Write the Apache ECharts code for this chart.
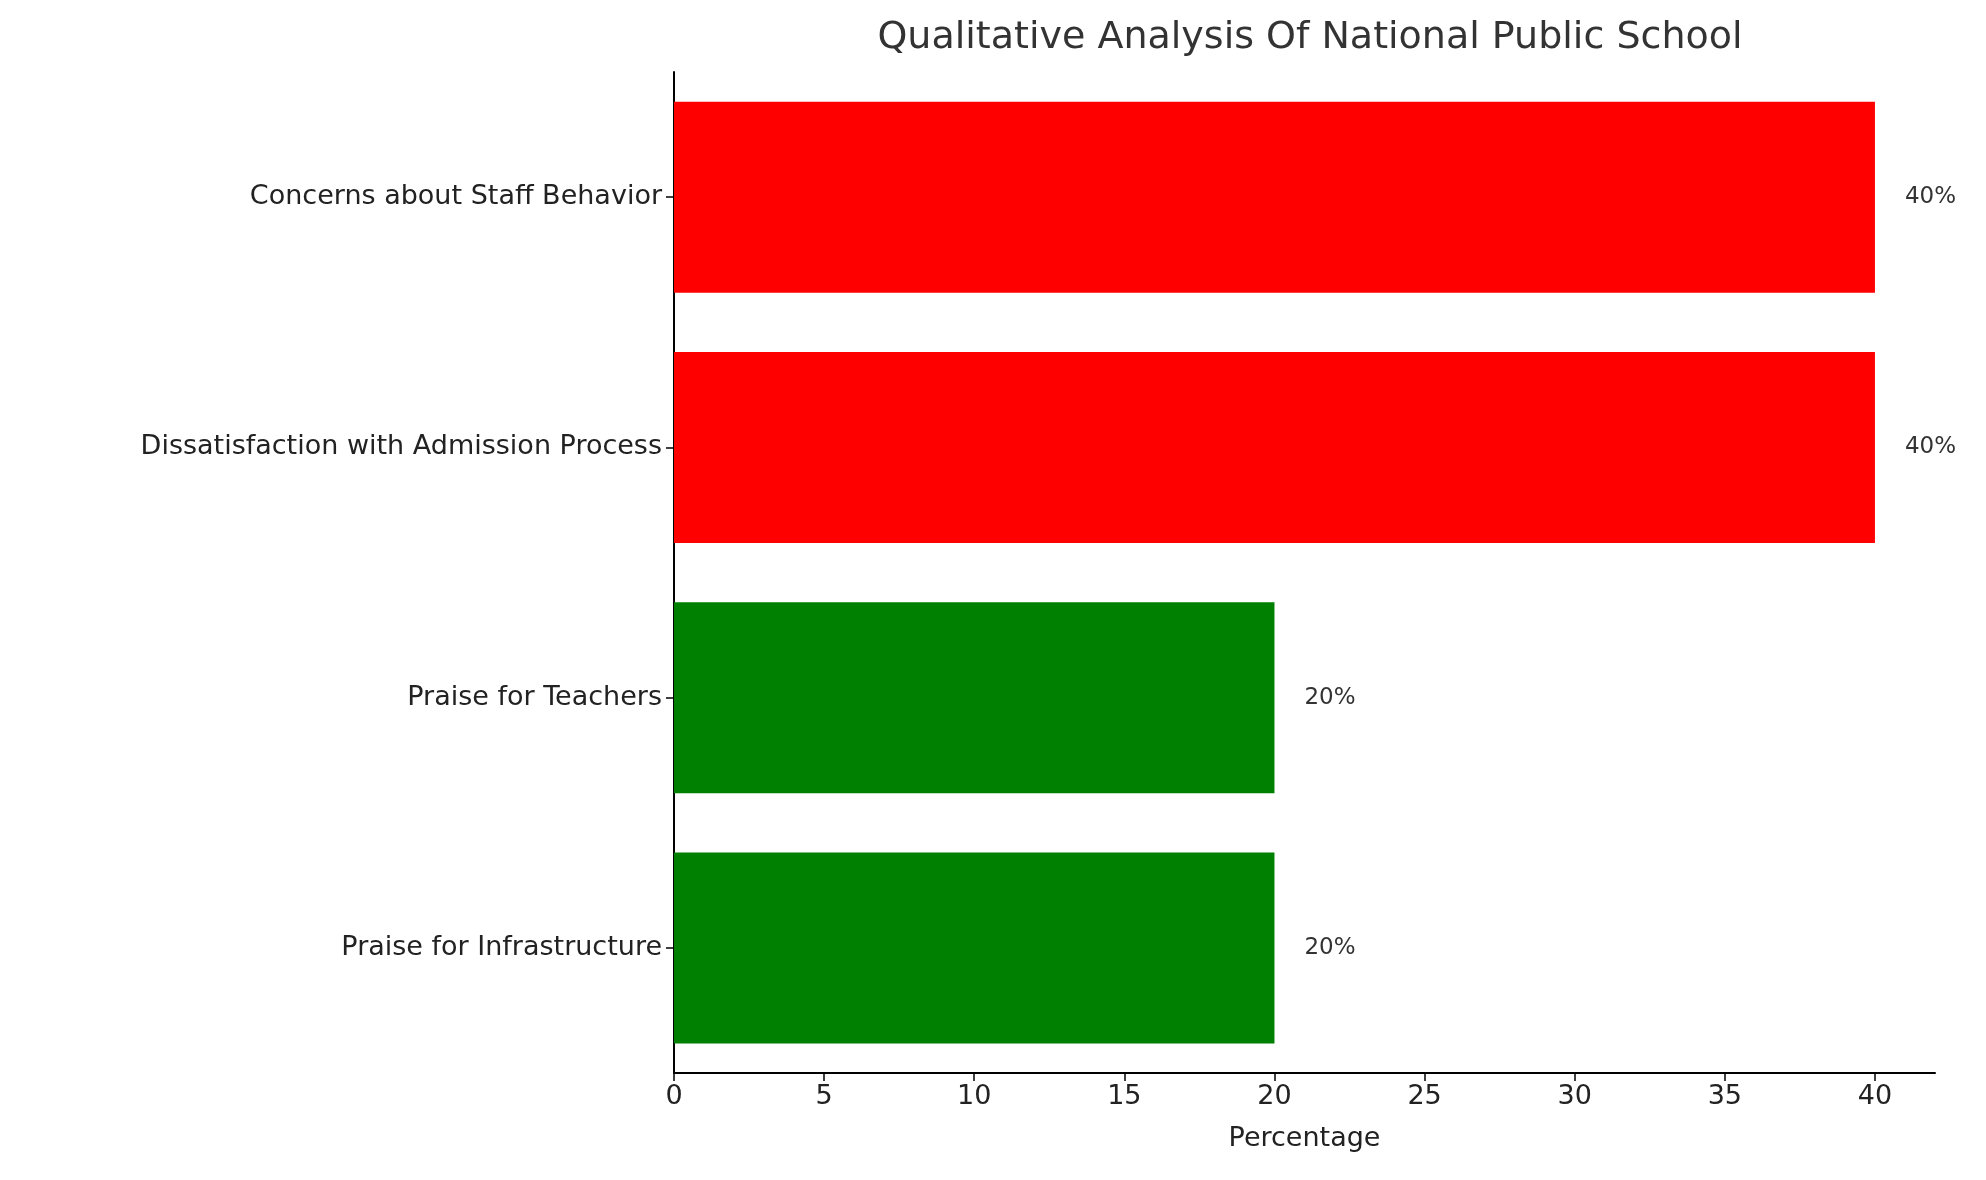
<!DOCTYPE html>
<html>
<head>
<meta charset="utf-8">
<script src="https://cdn.jsdelivr.net/npm/echarts@6/dist/echarts.min.js"></script>
<style>html,body{margin:0;padding:0;background:#fff}#chart{width:1986px;height:1180px}</style>
</head>
<body>
<div id="chart"></div>
<script>
// data
const categories = ['Praise for Infrastructure', 'Praise for Teachers', 'Dissatisfaction with Admission Process', 'Concerns about Staff Behavior']
const values = [20, 20, 40, 40]
const barColors = ['#008000', '#008000', '#ff0000', '#ff0000']

const chart = echarts.init(document.getElementById('chart'))
const font = 'DejaVu Sans'
chart.setOption({
  animation: false,
  title: {
    text: 'Qualitative Analysis Of National Public School',
    left: 1305, top: 14, textAlign: 'center',
    textStyle: { fontFamily: font, fontSize: 38, fontWeight: 'normal', color: '#333' }
  },
  grid: { left: 674, right: 51, top: 72, bottom: 107 },
  xAxis: {
    type: 'value', min: 0, max: 42, interval: 5,
    name: 'Percentage', nameLocation: 'middle', nameGap: 52,
    nameTextStyle: { fontFamily: font, fontSize: 27, color: '#222' },
    axisLine: { show: true, lineStyle: { color: '#000', width: 2 } },
    axisTick: { show: true, length: 8, lineStyle: { color: '#000', width: 1.5 } },
    axisLabel: { fontFamily: font, fontSize: 27, color: '#222', margin: 10, showMaxLabel: false },
    splitLine: { show: false }
  },
  yAxis: {
    type: 'category', data: categories,
    axisLine: { show: true, lineStyle: { color: '#000', width: 2 } },
    axisTick: { show: true, alignWithLabel: true, length: 8, lineStyle: { color: '#000', width: 1.5 } },
    axisLabel: { fontFamily: font, fontSize: 27, color: '#222', margin: 12 }
  },
  series: [{
    type: 'bar',
    data: values.map((v, i) => ({ value: v, itemStyle: { color: barColors[i] } })),
    barWidth: 191,
    label: {
      show: true, position: 'right', distance: 30,
      formatter: p => p.value + '%',
      fontFamily: font, fontSize: 23, color: '#333'
    }
  }]
})
</script>
</body>
</html>
